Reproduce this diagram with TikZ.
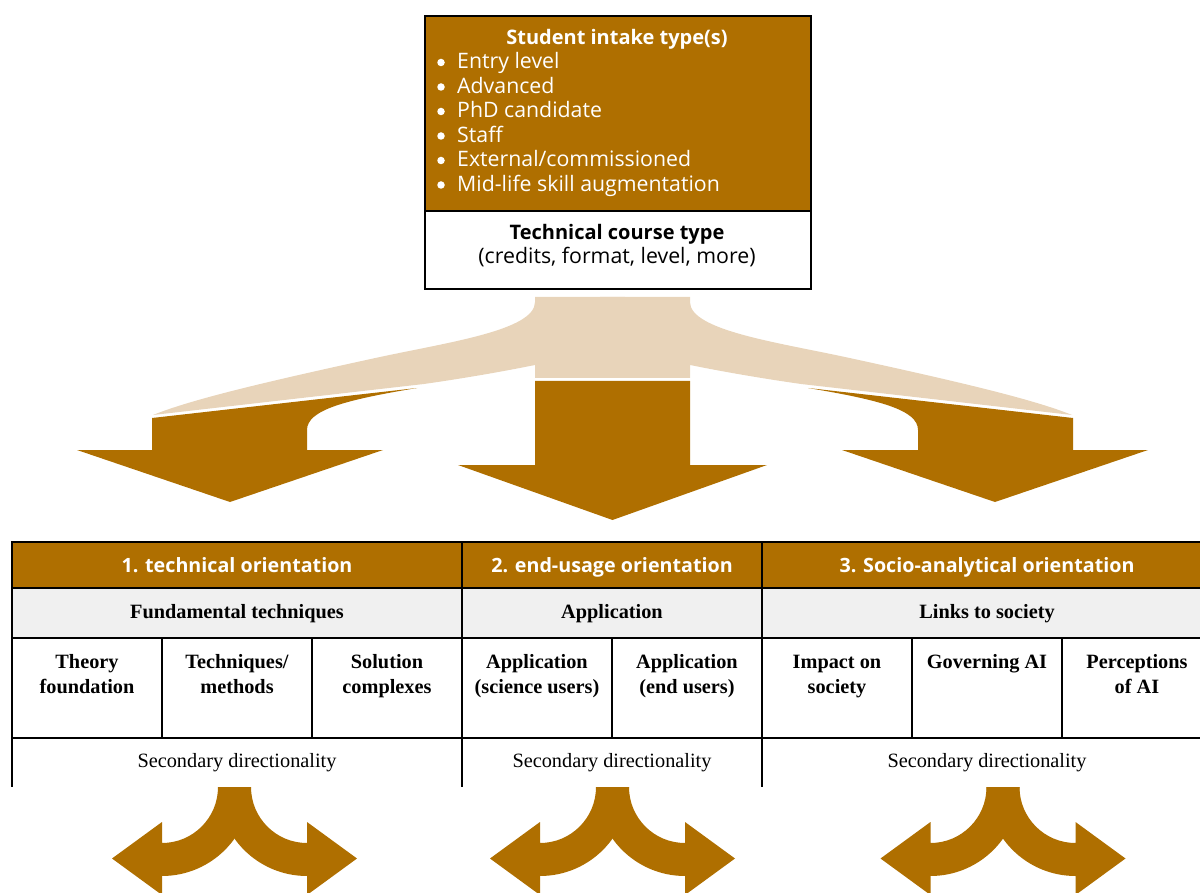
\documentclass[tikz,border=0pt]{standalone}
\usepackage{fontspec}
\setmainfont{Liberation Serif}
\newfontfamily\sansf{Open Sans}
\definecolor{brn}{RGB}{175,111,0}
\definecolor{tanc}{RGB}{232,212,186}
\definecolor{rowgray}{RGB}{240,240,240}
\tikzset{
  sbold/.style={font=\sansf\bfseries\fontsize{20}{22}\selectfont, inner sep=0pt, anchor=base},
  sreg/.style={font=\sansf\fontsize{21.3}{22}\selectfont, inner sep=0pt},
  hdr/.style={font=\sansf\bfseries\fontsize{19.7}{22}\selectfont, text=white, inner sep=0pt, anchor=base},
  serb/.style={font=\bfseries\fontsize{20.3}{22}\selectfont, inner sep=0pt, anchor=base},
  serr/.style={font=\fontsize{20.3}{22}\selectfont, inner sep=0pt, anchor=base},
  tline/.style={line width=2pt, black},
  bullet/.style={sreg, text=white, anchor=base west},
  bdot/.style={circle, fill=white, inner sep=0pt, minimum size=7.5pt},
}
\newcommand\dblarrow[1]{%
  \fill[brn] (#1-16.5,787) arc[start angle=0,end angle=90,radius=56] -- (#1-72.5,822)
     -- (#1-122.5,858.5) -- (#1-72.5,895) -- (#1-72.5,876)
     arc[start angle=90,end angle=0,radius=89] -- cycle;
  \fill[brn] (#1+16.5,787) arc[start angle=180,end angle=90,radius=56] -- (#1+72.5,822)
     -- (#1+122.5,858.5) -- (#1+72.5,895) -- (#1+72.5,876)
     arc[start angle=90,end angle=180,radius=89] -- cycle;
}
\begin{document}
\begin{tikzpicture}[x=1pt,y=-1pt]
\useasboundingbox (0,0) rectangle (1200,893);
\clip (0,0) rectangle (1200,893);

% ---------- top box ----------
\node[draw=black, line width=2pt, fill=brn, minimum width=386pt, minimum height=195pt,
      inner sep=0pt, anchor=north west] (intake) at (424,15) {};
\node[draw=black, line width=2pt, fill=white, minimum width=386pt, minimum height=78pt,
      inner sep=0pt, anchor=north west] (course) at (424,210) {};
\node[sbold, text=white] (ititle) at (617,45) {Student intake type(s)};
\foreach \yy/\txt [count=\i] in {69/Entry level, 93.5/Advanced, 118/PhD candidate,
    142.5/Staff, 167/External\slash commissioned, 191.5/Mid-life skill augmentation}{
  \node[bdot] (d\i) at (441,\yy-6.5) {};
  \node[bullet] (b\i) at (457,\yy) {\txt};
}
\node[sbold] (ctitle) at (617,240) {Technical course type};
\node[sreg, anchor=base] (csub) at (617,264) {(credits, format, level, more)};

% ---------- funnel and arrows ----------
\newcommand\halffunnel{%
  \fill[tanc] (625,297) -- (535,297) -- (535,302)
     .. controls (535,330) and (450,342) .. (380,357)
     .. controls (260,383) and (190,400) .. (153,415)
     -- (424,384) .. controls (480,376) and (520,368) .. (535,365)
     -- (535,378) -- (625,378) -- cycle;
  \fill[brn] (152,418) -- (417,388) .. controls (345,400) and (307,410) .. (307,430)
     -- (307,450) -- (383,450) -- (230,502) -- (77,450) -- (152,450) -- cycle;
}
\halffunnel
\begin{scope}[shift={(1225,0)}, xscale=-1]
\halffunnel
\end{scope}
\fill[brn] (535,381) -- (690,381) -- (690,465) -- (767,465) -- (612.5,520)
   -- (458,465) -- (535,465) -- cycle;

% ---------- table ----------
\fill[brn] (12,542) rectangle (1212,588);
\fill[rowgray] (12,588) rectangle (1212,638);
\foreach \y in {542,588,638,738} \draw[tline] (11,\y) -- (1213,\y);
\foreach \x in {12,462,762,1212} \draw[tline] (\x,541) -- (\x,787);
\foreach \x in {162,312,612,912,1062} \draw[tline] (\x,638) -- (\x,738);

\node[hdr] (h1) at (237,572) {1. technical orientation};
\node[hdr] (h2) at (612,572) {2. end-usage orientation};
\node[hdr] (h3) at (987,572) {3. Socio-analytical orientation};

\node[serb] (g1) at (237,618) {Fundamental techniques};
\node[serb] (g2) at (612,618) {Application};
\node[serb] (g3) at (987,618) {Links to society};

\node[serb] (c1a) at (87,668) {Theory};
\node[serb] (c1b) at (87,693) {foundation};
\node[serb] (c2a) at (237,668) {Techniques/};
\node[serb] (c2b) at (237,693) {methods};
\node[serb] (c3a) at (387,668) {Solution};
\node[serb] (c3b) at (387,693) {complexes};
\node[serb] (c4a) at (537,668) {Application};
\node[serb] (c4b) at (537,693) {(science users)};
\node[serb] (c5a) at (687,668) {Application};
\node[serb] (c5b) at (687,693) {(end users)};
\node[serb] (c6a) at (837,668) {Impact on};
\node[serb] (c6b) at (837,693) {society};
\node[serb] (c7a) at (987,668) {Governing AI};
\node[serb] (c8a) at (1137,668) {Perceptions};
\node[serb] (c8b) at (1137,693) {of AI};

\node[serr] (s1) at (237,767) {Secondary directionality};
\node[serr] (s2) at (612,767) {Secondary directionality};
\node[serr] (s3) at (987,767) {Secondary directionality};

% ---------- secondary arrows ----------
\dblarrow{234.5}
\dblarrow{612.5}
\dblarrow{1003}
\end{tikzpicture}
\end{document}
